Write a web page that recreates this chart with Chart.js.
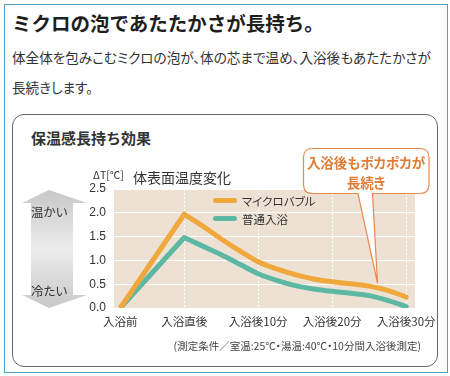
<!DOCTYPE html>
<html>
<head>
<meta charset="utf-8">
<script src="https://cdn.jsdelivr.net/npm/chart.js@4.4.0/dist/chart.umd.min.js"></script>
<style>
body{margin:0;width:450px;height:376px;position:relative;overflow:hidden;background:#fff;font-family:"Noto Sans CJK JP",sans-serif;color:#333}
.t{position:absolute;white-space:nowrap}
.p{font-feature-settings:"palt"}
#frame{position:absolute;left:4px;top:4px;width:444px;height:369px;box-sizing:border-box;border:1.5px solid #4aa3c6}
#box{position:absolute;left:12px;top:114px;width:426px;height:253px;box-sizing:border-box;border:1px solid #666;border-radius:12px}
#c{position:absolute;left:0;top:0}
#deco{position:absolute;left:0;top:0}
.key{position:absolute;height:5px;width:24px;border-radius:3px}
</style>
</head>
<body>
<div id="frame"></div>
<div id="box"></div>
<div class="t" style="left:12px;top:12px;font-size:19.5px;line-height:22px;font-weight:bold;color:#1e1e1e">ミクロの泡であたたかさが長持ち。</div>
<div class="t p" style="left:12px;top:49px;font-size:13.6px;line-height:16px">体全体を包みこむミクロの泡が、体の芯まで温め、入浴後もあたたかさが</div>
<div class="t p" style="left:12px;top:79px;font-size:13.6px;line-height:16px">長続きします。</div>
<div class="t" style="left:31px;top:129px;font-size:15px;line-height:18px;font-weight:bold">保温感長持ち効果</div>

<canvas id="c" width="450" height="376"></canvas>

<svg id="deco" width="450" height="376">
  <defs>
    <linearGradient id="g" x1="0" y1="0" x2="0" y2="1">
      <stop offset="0" stop-color="#c8c8c8"/>
      <stop offset="0.5" stop-color="#ececec"/>
      <stop offset="1" stop-color="#c8c8c8"/>
    </linearGradient>
  </defs>
  <path d="M49,190 L87,203 L73,203 L73,295 L87,295 L49,308 L22,295 L31,295 L31,203 L22,203 Z" fill="url(#g)"/>
  <path d="M312.5,148.5 H420 Q429,148.5 429,157.5 V184.5 Q429,193.5 420,193.5 H372.5 L377.5,283 L358,193.5 H312.5 Q303.5,193.5 303.5,184.5 V157.5 Q303.5,148.5 312.5,148.5 Z" fill="#fff" stroke="#e8894e" stroke-width="1.2"/>
</svg>

<div class="t p" style="left:31px;top:204px;width:36px;text-align:center;font-size:12.5px;line-height:16px">温かい</div>
<div class="t p" style="left:31px;top:283px;width:36px;text-align:center;font-size:12.5px;line-height:16px">冷たい</div>
<div class="t" style="left:93px;top:168px;font-size:10.5px;line-height:13px">ΔT[℃]</div>
<div class="t p" style="left:133px;top:169px;font-size:14px;line-height:16px">体表面温度変化</div>
<div class="key" style="left:213px;top:198px;background:#f0a73c"></div>
<div class="t p" style="left:242px;top:193px;font-size:11.5px;line-height:16px">マイクロバブル</div>
<div class="key" style="left:213px;top:216px;background:#5cb8a2"></div>
<div class="t p" style="left:242px;top:211px;font-size:11.5px;line-height:16px">普通入浴</div>
<div class="t p" style="left:303px;top:154px;width:126px;text-align:center;font-size:13.5px;line-height:17px;font-weight:bold;color:#e07b35">入浴後もポカポカが</div>
<div class="t p" style="left:303px;top:174px;width:126px;text-align:center;font-size:13.5px;line-height:17px;font-weight:bold;color:#e07b35">長続き</div>
<div class="t p" style="right:29px;top:339px;font-size:10.5px;line-height:14px;color:#444">(測定条件／室温:25℃・湯温:40℃・10分間入浴後測定)</div>

<script>
// ticks and labels
const xLabels = ['入浴前', '入浴直後', '入浴後10分', '入浴後20分', '入浴後30分'];
const xTicks = [-8.65, 0, 10, 20, 30];
const yTicks = [0, 0.5, 1, 1.5, 2, 2.5];

// rising part (before bath -> right after bath)
const riseX = [-8.65, 0];
const microRise = [0, 1.97];
const normalRise = [0, 1.48];

// after bath, minutes
const fallX = [0, 2.5, 5, 7.5, 10, 12.5, 15, 17.5, 20, 22.5, 25, 27.5, 30];
const microFall = [1.97, 1.72, 1.45, 1.2, 0.97, 0.82, 0.70, 0.61, 0.55, 0.51, 0.46, 0.37, 0.23];
const normalFall = [1.48, 1.30, 1.12, 0.92, 0.72, 0.58, 0.47, 0.40, 0.35, 0.31, 0.26, 0.16, 0.03];

function pts(xs, ys){
    return xs.map((x, i) => ({x: x, y: ys[i]}));
}

const orange = '#f0a73c';
const teal = '#5cb8a2';

const plotBg = {
    id: 'plotBg',
    beforeDraw(chart){
        const a = chart.chartArea;
        const ctx = chart.ctx;
        ctx.save();
        ctx.fillStyle = '#ede1d4';
        ctx.fillRect(a.left, a.top, a.right - a.left, a.bottom - a.top);
        ctx.restore();
    }
};

function lineSet(data, color, curved){
    return {
        data: data,
        borderColor: color,
        borderWidth: 5,
        pointRadius: 0,
        tension: curved ? 0.4 : 0,
        cubicInterpolationMode: curved ? 'monotone' : 'default',
        borderCapStyle: curved ? 'round' : 'butt',
        fill: false
    };
}

var ctx = document.getElementById('c').getContext('2d');
var chart = new Chart(ctx, {
    type: 'line',
    data: {
        datasets: [
            lineSet(pts(riseX, microRise), orange, false),
            lineSet(pts(fallX, microFall), orange, true),
            lineSet(pts(riseX, normalRise), teal, false),
            lineSet(pts(fallX, normalFall), teal, true)
        ]
    },
    options: {
        responsive: false,
        animation: false,
        layout: { padding: { left: 60, right: 35, top: 189, bottom: 46 } },
        plugins: { legend: { display: false }, tooltip: { enabled: false } },
        scales: {
            x: {
                type: 'linear',
                min: -9.5,
                max: 31.2,
                afterBuildTicks: s => { s.ticks = xTicks.map(v => ({value: v})); },
                afterFit: s => { s.height = 22; },
                ticks: {
                    autoSkip: false,
                    maxRotation: 0,
                    padding: 7,
                    color: '#333',
                    font: { family: '"Noto Sans CJK JP"', size: 11.5 },
                    callback: (v, i) => xLabels[i]
                },
                grid: {
                    drawTicks: false,
                    lineWidth: 1,
                    color: c => (c.tick && c.tick.value < -1) ? 'rgba(0,0,0,0)' : '#fff'
                },
                border: { display: false, dash: [2, 2] }
            },
            y: {
                min: 0,
                max: 2.5,
                afterBuildTicks: s => { s.ticks = yTicks.map(v => ({value: v})); },
                afterFit: s => { s.width = 54; },
                ticks: {
                    padding: 8,
                    color: '#333',
                    font: { family: '"Liberation Sans"', size: 12 },
                    callback: v => v.toFixed(1)
                },
                grid: { drawTicks: false, color: '#fff', lineWidth: 1 },
                border: { display: false }
            }
        }
    },
    plugins: [plotBg]
});
</script>
</body>
</html>
